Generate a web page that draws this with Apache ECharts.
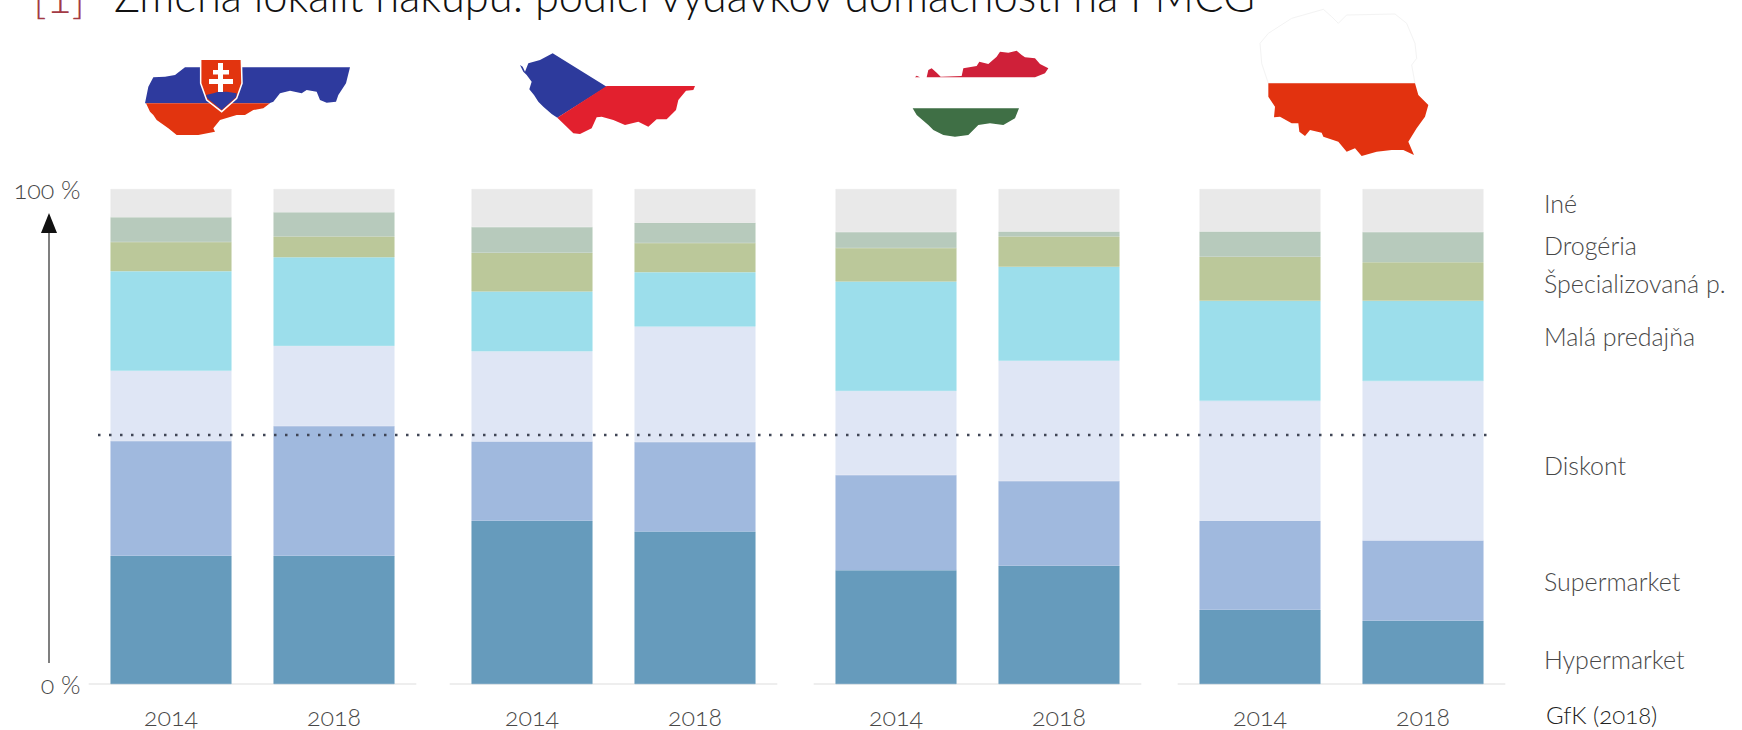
<!DOCTYPE html>
<html>
<head>
<meta charset="utf-8">
<title>Zmena lokalít nákupu</title>
<style>
html, body { margin: 0; padding: 0; background: #fff; }
#chart { width: 1742px; height: 730px; }
#chart svg text { font-feature-settings: "onum" 1; }
</style>
<script src="https://cdn.jsdelivr.net/npm/echarts@6/dist/echarts.min.js"></script>
</head>
<body>
<div id="chart"></div>
<script>
// poradie: SK 2014, SK 2018, CZ 2014, CZ 2018, HU 2014, HU 2018, PL 2014, PL 2018
let years = ['2014', '2018'];
let hypermarket = [25.9, 25.9, 33.0, 30.8, 23.0, 23.9, 15.0, 12.8];
let supermarket = [23.2, 26.2, 16.0, 18.1, 19.2, 17.1, 18.0, 16.2];
let diskont     = [14.2, 16.2, 18.2, 23.3, 17.0, 24.3, 24.2, 32.2];
let malaPredajna = [20.1, 17.9, 12.1, 11.0, 22.1, 19.0, 20.2, 16.2];
let specializovana = [5.9, 4.2, 7.8, 5.9, 6.8, 6.1, 8.9, 7.8];
let drogeria    = [5.0, 4.9, 5.2, 4.1, 3.2, 1.0, 5.1, 6.1];
let ine         = [5.7, 4.7, 7.7, 6.8, 8.7, 8.6, 8.6, 8.7];
let midLine = 50.3;

let segmentNames = ['Hypermarket', 'Supermarket', 'Diskont', 'Malá predajňa', 'Špecializovaná p.', 'Drogéria', 'Iné'];
let segmentValues = [hypermarket, supermarket, diskont, malaPredajna, specializovana, drogeria, ine];
let segmentColors = ['#669bbc', '#a0b9de', '#dfe6f5', '#9cdeeb', '#bbc89a', '#b7cabc', '#e9e9e9'];
let labelY = [659, 581, 465, 336, 283, 245, 203];	// legenda vpravo

let gridLefts = [89.5, 450.5, 814.5, 1178.5];
let gridWidth = 326;
let gridTop = 189;
let gridBottom = 46;
let fontName = 'Lato';
let textColor = '#484848';

// obrysy vlajok, px z vyrezu 3x
let skBlue = [[165,82],[660,82],[648,130],[625,165],[618,185],[590,188],[570,180],[560,155],[530,150],[515,160],[480,152],[450,160],[430,185],[418,190],[45,190],[55,140],[70,112],[105,110],[135,105]];
let skRed = [[48,190],[420,190],[400,205],[370,210],[345,225],[320,225],[270,240],[250,265],[255,275],[205,285],[140,285],[115,265],[80,240],[70,225],[60,215]];
let skShield = [[212,58],[334,58],[336,130],[320,175],[275,215],[230,180],[212,130]];
let skHills = [[228,165],[250,160],[265,155],[290,155],[320,160],[318,172],[275,210],[232,175]];
let czBlue = [[30,75],[38,80],[45,95],[55,70],[90,60],[128,40],[290,140],[142,233],[125,222],[100,200],[85,185],[72,165],[58,148],[65,125],[50,105],[40,95]];
let czRed = [[290,138],[555,138],[550,150],[528,152],[505,180],[498,210],[470,238],[440,238],[415,260],[385,245],[345,255],[310,240],[275,230],[260,232],[245,265],[210,282],[190,280],[142,233]];
let huDot = [[45,112],[50,107],[60,112]];
let huRed = [[80,112],[85,90],[95,85],[110,98],[122,110],[185,108],[190,85],[230,78],[238,65],[265,72],[290,50],[300,35],[325,38],[350,32],[365,45],[375,52],[405,55],[420,72],[445,85],[435,100],[405,112]];
let huGreen = [[38,205],[357,205],[345,235],[310,255],[270,250],[235,255],[205,285],[165,290],[130,285],[100,270],[85,255],[50,225]];
let plWhite = [[25,250],[5,190],[0,130],[25,100],[95,55],[190,28],[215,50],[235,70],[260,45],[405,42],[440,70],[465,130],[470,175],[455,195],[465,250]];
let plRed = [[25,250],[465,250],[475,285],[505,315],[495,350],[470,385],[445,425],[462,465],[430,450],[395,450],[350,455],[305,468],[285,445],[260,455],[235,425],[190,410],[185,398],[150,390],[135,408],[118,395],[115,370],[95,370],[60,350],[42,352],[45,320],[25,290]];

function flagShape(pts, ox, oy, fill, stroke, strokeWidth){
	return {
		type: 'polygon',
		shape: { points: pts.map(p => [ox + p[0] / 3, oy + p[1] / 3]) },
		style: { fill: fill, stroke: stroke || null, lineWidth: strokeWidth || 0 },
		z: 5
	};
}

function rectShape(x, y, w, h, fill){
	return { type: 'rect', shape: { x: x, y: y, width: w, height: h }, style: { fill: fill }, z: 6 };
}

function textShape(str, x, y, size, color, scaleX){
	return {
		type: 'text',
		x: x,
		y: y,
		scaleX: scaleX || 1,
		style: {
			text: str,
			fill: color,
			fontFamily: fontName,
			fontSize: size,
			fontWeight: 300,
			verticalAlign: 'middle',
			align: 'left'
		},
		z: 10
	};
}

let grids = [];
let xAxes = [];
let yAxes = [];
let seriesList = [];

gridLefts.forEach((left, g) => {
	grids.push({ left: left, top: gridTop, width: gridWidth, bottom: gridBottom });
	xAxes.push({
		type: 'category',
		gridIndex: g,
		data: years,
		axisTick: { show: false },
		axisLine: { show: true, lineStyle: { color: '#eeeeee', width: 2 } },
		axisLabel: { color: textColor, fontFamily: fontName, fontWeight: 300, fontSize: 25, margin: 19 }
	});
	yAxes.push({
		type: 'value',
		gridIndex: g,
		min: 0,
		max: 100,
		interval: 100,
		splitLine: { show: false },
		axisLine: { show: false },
		axisTick: { show: false },
		axisLabel: {
			show: g === 0,
			color: textColor,
			fontFamily: fontName,
			fontWeight: 300,
			fontSize: 25,
			margin: 9,
			padding: [0, 0, 6, 0],
			formatter: '{value} %'
		}
	});
	segmentNames.forEach((name, s) => {
		seriesList.push({
			name: name,
			type: 'bar',
			stack: 'g' + g,
			xAxisIndex: g,
			yAxisIndex: g,
			barWidth: s === 6 ? 118 : 121,
			itemStyle: { color: segmentColors[s], borderColor: segmentColors[s], borderWidth: 0.5 },
			data: segmentValues[s].slice(g * 2, g * 2 + 2)
		});
	});
});

// bodkovana ciara 50 % cez vsetky skupiny
grids.push({ left: 98, top: gridTop, width: 1395, bottom: gridBottom });
xAxes.push({ type: 'value', gridIndex: 4, min: 0, max: 1, show: false });
yAxes.push({ type: 'value', gridIndex: 4, min: 0, max: 100, show: false });
seriesList.push({
	name: 'midLine',
	type: 'line',
	xAxisIndex: 4,
	yAxisIndex: 4,
	symbol: 'none',
	z: 20,
	lineStyle: { color: '#3f4555', width: 2.5, type: [2.5, 8.5] },
	data: [[0, midLine], [1, midLine]]
});

let graphics = [
	textShape('[1]', 33, -5, 46, '#a33a45'),
	textShape('Zmena lokalít nákupu: podiel výdavkov domácností na FMCG', 114, -5, 46, '#111111', 0.945),
	{ type: 'line', shape: { x1: 49, y1: 225, x2: 49, y2: 663 }, style: { stroke: '#555555', lineWidth: 1.5 }, z: 5 },
	{ type: 'polygon', shape: { points: [[49, 213], [57, 233], [41, 233]] }, style: { fill: '#111111' }, z: 5 },

	flagShape(skBlue, 130, 40, '#2e3a9e'),
	flagShape(skRed, 130, 40, '#e2340f'),
	flagShape(skShield, 130, 40, '#e2340f', '#ffffff', 1.5),
	flagShape(skHills, 130, 40, '#2e3a9e'),
	rectShape(218, 63, 5, 29, '#ffffff'),
	rectShape(213, 70, 16, 4.5, '#ffffff'),
	rectShape(209, 79, 24, 5, '#ffffff'),

	flagShape(czBlue, 510, 40, '#2d3a9c'),
	flagShape(czRed, 510, 40, '#e2202e'),

	flagShape(huDot, 900, 40, '#cf2039'),
	flagShape(huRed, 900, 40, '#cf2039'),
	flagShape(huGreen, 900, 40, '#3f6f45'),

	flagShape(plWhite, 1260, 0, '#ffffff', '#f3f3f3', 1),
	flagShape(plRed, 1260, 0, '#e2320f'),

	textShape('GfK (2018)', 1546, 714, 24, '#222222')
];
segmentNames.forEach((name, s) => {
	graphics.push(textShape(name, 1544, labelY[s], 25, textColor));
});

let myChart = echarts.init(document.getElementById('chart'), null, { renderer: 'svg' });
myChart.setOption({
	animation: false,
	backgroundColor: '#ffffff',
	tooltip: { show: false },
	grid: grids,
	xAxis: xAxes,
	yAxis: yAxes,
	series: seriesList,
	graphic: graphics
});
</script>
</body>
</html>
